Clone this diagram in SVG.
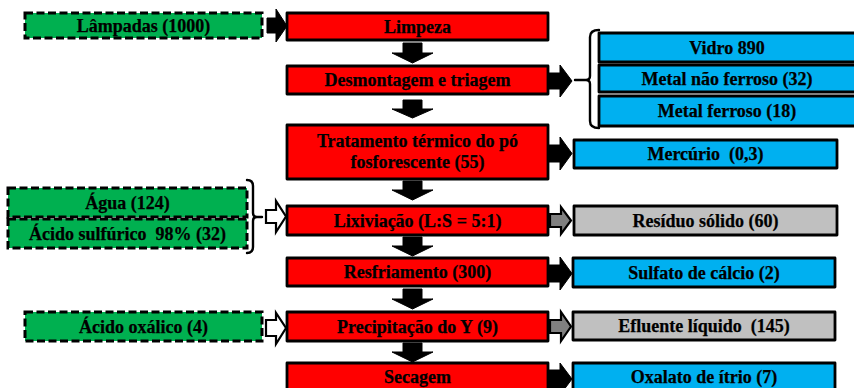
<svg xmlns="http://www.w3.org/2000/svg" width="854" height="388" viewBox="0 0 854 388">
<style>
text{font-family:"Liberation Serif","Times New Roman",serif;font-weight:bold;font-size:18px;text-anchor:middle;fill:#000;stroke:#000;stroke-width:0.25}
.proc{fill:#ff0000;stroke:#000;stroke-width:2.8;stroke-linejoin:round}
.out{fill:#00b0f0;stroke:#000;stroke-width:2.8;stroke-linejoin:round}
.waste{fill:#c0c0c0;stroke:#000;stroke-width:2.8;stroke-linejoin:round}
.in{fill:#00b050;stroke:#000;stroke-width:3;stroke-dasharray:8 3.5}
.arr{fill:#000;stroke:#000;stroke-width:1;stroke-linejoin:miter}
.garr{fill:#808080;stroke:#000;stroke-width:2.2;stroke-linejoin:miter}
.warr{fill:#fff;stroke:#000;stroke-width:2.2;stroke-linejoin:miter}
.br{fill:none;stroke:#000;stroke-width:2.4;stroke-linecap:round;stroke-linejoin:round}
</style>
<g id="connectors">
<polygon class="arr" points="267,18 276,18 276,9 287,26 276,42 276,33 267,33"/>
<polygon class="arr" points="403,43 422,43 422,53 433,53 412.5,63 392,53 403,53"/>
<polygon class="arr" points="403,100 422,100 422,109 433,109 412.5,118 392,109 403,109"/>
<polygon class="arr" points="403,181 422,181 422,190 433,190 412.5,200 392,190 403,190"/>
<polygon class="arr" points="403,237 422,237 422,246 433,246 412.5,256 392,246 403,246"/>
<polygon class="arr" points="403,289 422,289 422,299 433,299 412.5,309 392,299 403,299"/>
<polygon class="arr" points="403,343 422,343 422,352 433,352 412.5,362 392,352 403,352"/>
<polygon class="arr" points="549,73 560,73 560,65 572,81 560,97 560,89 549,89"/>
<polygon class="arr" points="549,145 560,145 560,137 572,153.5 560,170 560,162 549,162"/>
<polygon class="garr" points="550,214 561,214 561,207 571,220.5 561,234 561,227 550,227"/>
<polygon class="arr" points="549,265 560,265 560,257 572,273.5 560,290 560,282 549,282"/>
<polygon class="garr" points="550,320 561,320 561,312 571,326.5 561,341 561,333 550,333"/>
<polygon class="arr" points="549,370 560,370 560,363 572,379 560,395 560,388 549,388"/>
<polygon class="warr" points="266,210 276,210 276,201 286,216.5 276,232 276,223 266,223"/>
<polygon class="warr" points="266,320 276,320 276,313 286,328 276,344 276,336 266,336"/>
<path class="br" d="M599,30 Q590,30 590,37 L590,76 Q590,80 586,80 L575,80 M586,80 Q590,80 590,84 L590,121 Q590,128 599,128"/>
<path class="br" d="M247,180 Q253,180 253,186 L253,213 Q253,217 257,217 L262,217 M257,217 Q253,217 253,221 L253,247 Q253,253 247,253"/>
</g>
<g id="lampadas"><rect class="in" x="25" y="13" width="237" height="25"/><text x="143.5" y="32">Lâmpadas (1000)</text></g>
<g id="limpeza"><rect class="proc" x="287" y="13" width="261" height="27"/><text x="417.5" y="33">Limpeza</text></g>
<g id="desmontagem"><rect class="proc" x="287" y="66" width="261" height="28"/><text x="417.5" y="86">Desmontagem e triagem</text></g>
<g id="tratamento"><rect class="proc" x="287" y="125" width="261" height="54"/><text x="417.5" y="147">Tratamento térmico do pó</text><text x="417.5" y="168">fosforescente (55)</text></g>
<g id="lixiviacao"><rect class="proc" x="287" y="206" width="261" height="29"/><text x="417.5" y="227">Lixiviação (L:S = 5:1)</text></g>
<g id="resfriamento"><rect class="proc" x="287" y="258" width="261" height="28"/><text x="417.5" y="278">Resfriamento (300)</text></g>
<g id="precipitacao"><rect class="proc" x="287" y="312" width="261" height="29"/><text x="417.5" y="333">Precipitação do Y (9)</text></g>
<g id="secagem"><rect class="proc" x="287" y="363" width="261" height="32"/><text x="417.5" y="383">Secagem</text></g>
<g id="vidro"><rect class="out" x="599" y="33" width="258" height="29"/><text x="727" y="54">Vidro 890</text></g>
<g id="metal-nao-ferroso"><rect class="out" x="599" y="65" width="258" height="27"/><text x="727" y="85">Metal não ferroso (32)</text></g>
<g id="metal-ferroso"><rect class="out" x="599" y="96" width="258" height="30"/><text x="727" y="117">Metal ferroso (18)</text></g>
<g id="mercurio"><rect class="out" x="574" y="140" width="263" height="28"/><text x="705.5" y="160" xml:space="preserve">Mercúrio  (0,3)</text></g>
<g id="residuo"><rect class="waste" x="574" y="206" width="263" height="29"/><text x="705.5" y="227">Resíduo sólido (60)</text></g>
<g id="sulfato"><rect class="out" x="573" y="258" width="262" height="29"/><text x="704" y="279">Sulfato de cálcio (2)</text></g>
<g id="efluente"><rect class="waste" x="573" y="312" width="262" height="28"/><text x="704" y="332" xml:space="preserve">Efluente líquido  (145)</text></g>
<g id="oxalato"><rect class="out" x="573" y="363" width="262" height="32"/><text x="704" y="383">Oxalato de ítrio (7)</text></g>
<g id="agua"><rect class="in" x="8" y="188" width="239" height="29"/><text x="127.5" y="209">Água (124)</text></g>
<g id="acido-sulfurico"><rect class="in" x="8" y="219" width="239" height="29"/><text x="127.5" y="240" xml:space="preserve">Ácido sulfúrico  98% (32)</text></g>
<g id="acido-oxalico"><rect class="in" x="25" y="312" width="237" height="29"/><text x="143.5" y="333">Ácido oxálico (4)</text></g>
</svg>
